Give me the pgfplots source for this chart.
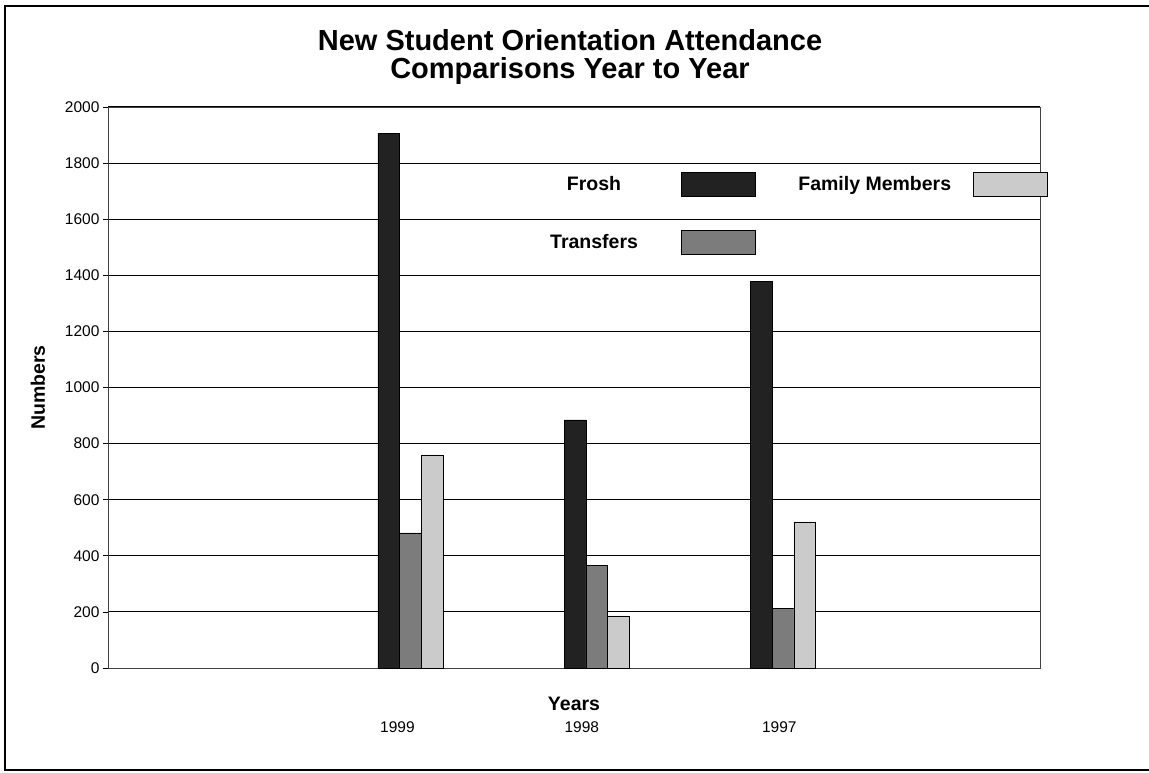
\documentclass[border=0pt]{standalone}
\usepackage{fontspec}
\setmainfont{Liberation Sans}
\usepackage{pgfplots}
\pgfplotsset{compat=1.18}
\definecolor{froshc}{HTML}{222222}
\definecolor{transc}{HTML}{7C7C7C}
\definecolor{famc}{HTML}{CBCBCB}
\pgfplotsset{sw/.style={legend image code/.code={\draw[##1] (0pt,-12pt) rectangle (74pt,12pt);}},
  swb/.style={legend image code/.code={\path (0pt,-12pt) rectangle (53pt,12pt);\draw[##1,overlay] (-21pt,-12pt) rectangle (53pt,12pt);}}}
\begin{document}
\begin{tikzpicture}[x=1pt,y=1pt]
\useasboundingbox (0,0) rectangle (1149,772);
\draw[line width=1.5pt] (1149,766) -- (5,766) -- (5,2) -- (1149,2);
\node[anchor=base, inner sep=0pt, font=\fontsize{29}{33}\selectfont\bfseries] at (570,721) {New Student Orientation Attendance};
\node[anchor=base, inner sep=0pt, font=\fontsize{29}{33}\selectfont\bfseries] at (570,693) {Comparisons Year to Year};
\begin{axis}[
  at={(108pt,104pt)}, anchor=south west,
  scale only axis, width=932pt, height=561pt,
  ymin=0, ymax=2000, ytick distance=200,
  xmin=-0.624, xmax=4.38,
  xtick={0.93,1.92,2.98}, xticklabels={1999,1998,1997},
  ybar=0pt, bar width=21.7pt,
  ymajorgrids, major grid style={black, line width=1pt},
  axis line style={black!75, line width=0.8pt},
  tick align=outside, major tick length=5pt,
  ytick pos=left,
  ytick style={black, line width=0.8pt},
  xtick style={draw=none},
  /pgf/number format/1000 sep={},
  /pgf/number format/assume math mode=true,
  tick label style={font=\fontsize{15.5}{18}\selectfont},
  xticklabel style={anchor=base, yshift=-59pt},
  xlabel={Years}, ylabel={Numbers},
  label style={font=\fontsize{19.5}{22}\selectfont\bfseries},
  xlabel style={at={(axis description cs:0.5,0)}, anchor=base, yshift=-42pt},
  ylabel style={at={(axis description cs:0,0.5)}, anchor=center, yshift=70pt},
  legend columns=2, transpose legend, legend plot pos=right,
  legend cell align=center,
  legend style={draw=none, fill=none, inner sep=0pt,
    at={(axis description cs:0.4742,0.884)}, anchor=north west,
    column sep=43pt, row sep=33pt,
    nodes={inner sep=0pt, font=\fontsize{19.5}{22}\selectfont\bfseries}},
]
\addplot[fill=froshc, draw=black, sw] coordinates {(1,1905) (2,885) (3,1378)};
\addplot[fill=transc, draw=black, sw] coordinates {(1,482) (2,367) (3,213)};
\addplot[fill=famc, draw=black, swb] coordinates {(1,760) (2,186) (3,521)};
\legend{Frosh,Transfers,Family Members}
\end{axis}
\end{tikzpicture}
\end{document}
